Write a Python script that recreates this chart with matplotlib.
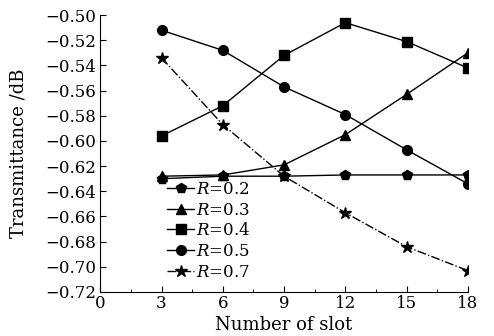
import matplotlib
matplotlib.use("Agg")
import matplotlib.pyplot as plt

plt.rcParams["font.family"] = "DejaVu Serif"
plt.rcParams["mathtext.fontset"] = "dejavuserif"

slots = [3, 6, 9, 12, 15, 18]
r02 = [-0.630, -0.628, -0.628, -0.627, -0.627, -0.627]
r03 = [-0.628, -0.627, -0.619, -0.595, -0.563, -0.530]
r04 = [-0.596, -0.572, -0.532, -0.506, -0.521, -0.542]
r05 = [-0.512, -0.528, -0.557, -0.579, -0.607, -0.634]
r07 = [-0.534, -0.587, -0.628, -0.657, -0.684, -0.703]

series = [
    (r02, "p", "-", "$R$=0.2"),
    (r03, "^", "-", "$R$=0.3"),
    (r04, "s", "-", "$R$=0.4"),
    (r05, "o", "-", "$R$=0.5"),
    (r07, "*", "-.", "$R$=0.7"),
]

fig = plt.figure(figsize=(4.94, 3.36), dpi=100)
ax = fig.add_axes([0.203, 0.131, 0.744, 0.824])

for vals, mk, ls, lab in series:
    ms = 9 if mk == "*" else 7
    ax.plot(slots, vals, color="black", lw=1, ls=ls, marker=mk, ms=ms, label=lab)

ax.set_xlim(0, 18)
ax.set_ylim(-0.72, -0.50)
ax.set_xticks([0, 3, 6, 9, 12, 15, 18])
ax.set_xticks([1.5, 4.5, 7.5, 10.5, 13.5, 16.5], minor=True)
ax.set_yticks([-0.72 + 0.02 * i for i in range(12)])
ax.set_yticklabels([f"{-0.72 + 0.02 * i:.2f}".replace("-", "\u2212") for i in range(12)])
ax.tick_params(direction="in", labelsize=12, length=4, pad=2)
ax.tick_params(axis="y", pad=3)
ax.tick_params(which="minor", direction="in", length=2.5)
ax.spines["top"].set_visible(False)
ax.spines["right"].set_visible(False)

ax.set_xlabel("Number of slot", fontsize=13, labelpad=3)
ax.set_ylabel("Transmittance /dB", fontsize=13, labelpad=13)

ax.legend(loc="lower left", bbox_to_anchor=(0.155, 0.005), frameon=False,
          fontsize=12, handlelength=1.6, handletextpad=0.1, labelspacing=0.22,
          borderaxespad=0.2)

fig.savefig("out.png", dpi=100)
